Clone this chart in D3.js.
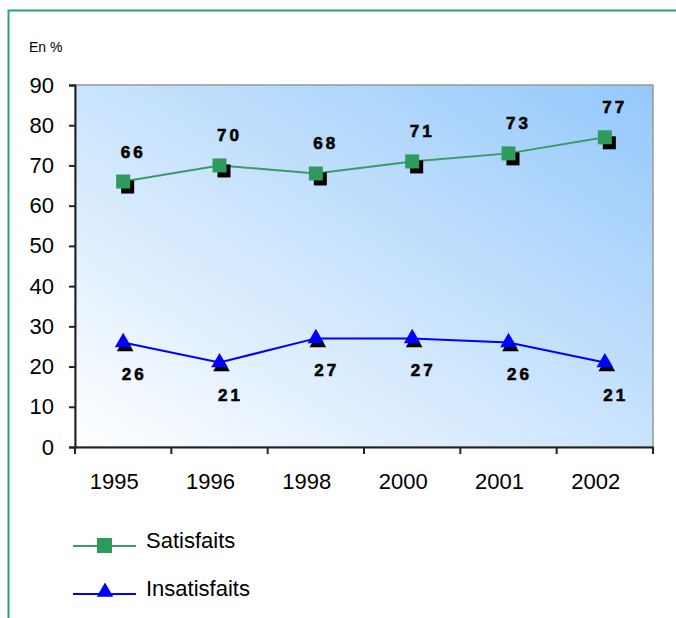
<!DOCTYPE html>
<html>
<head>
<meta charset="utf-8">
<script src="https://cdn.jsdelivr.net/npm/d3@7"></script>
<style>
body { margin: 0; background: #fff; }
svg { display: block; font-family: Arial, "Liberation Sans", sans-serif; }
</style>
</head>
<body>
<script>
let years = ['1995', '1996', '1998', '2000', '2001', '2002'];
let satisfaits = [66, 70, 68, 71, 73, 77];
let insatisfaits = [26, 21, 27, 27, 26, 21];
let yTicks = [0, 10, 20, 30, 40, 50, 60, 70, 80, 90];

let width = 676, height = 618;
let margin = { top: 85, right: 23, bottom: 171, left: 75 };

let svg = d3.select('body').append('svg').attr('width', width).attr('height', height);

// green frame
svg.append('rect').attr('x', 8.5).attr('y', 10.5).attr('width', 690).attr('height', 640)
  .attr('fill', 'none').attr('stroke', '#2aa57a').attr('stroke-width', 2);

let defs = svg.append('defs');
let grad = defs.append('linearGradient').attr('id', 'bg')
  .attr('x1', '0%').attr('y1', '100%').attr('x2', '100%').attr('y2', '0%');
grad.append('stop').attr('offset', '0%').attr('stop-color', '#ffffff');
grad.append('stop').attr('offset', '100%').attr('stop-color', '#94c8fb');

let x = d3.scaleBand().domain(years).range([margin.left, width - margin.right]);
let y = d3.scaleLinear().domain([0, 90]).range([height - margin.bottom, margin.top]);

svg.append('rect')
  .attr('x', x.range()[0]).attr('y', y(90))
  .attr('width', x.range()[1] - x.range()[0]).attr('height', y(0) - y(90))
  .attr('fill', 'url(#bg)').attr('stroke', '#999').attr('stroke-width', 1.5);

// axes
let yAxis = svg.append('g').attr('transform', `translate(${margin.left},0)`)
  .call(d3.axisLeft(y).tickValues(yTicks).tickSize(6).tickPadding(15));
yAxis.selectAll('text').attr('font-size', 22).attr('fill', '#000').attr('font-family', 'Arial, Liberation Sans, sans-serif');
yAxis.selectAll('line, path').attr('stroke', '#222').attr('stroke-width', 2);

let xAxis = svg.append('g').attr('transform', `translate(0,${y(0)})`)
  .call(d3.axisBottom(x).tickSize(0).tickPadding(26).tickSizeOuter(0));
xAxis.selectAll('text').attr('font-size', 22).attr('fill', '#000').attr('dx', -9)
  .attr('font-family', 'Arial, Liberation Sans, sans-serif');
xAxis.select('.domain').attr('stroke', '#222').attr('stroke-width', 2);
// ticks at band boundaries
let bounds = years.map(d => x(d)).concat([x.range()[1]]);
svg.append('g').selectAll('line').data(bounds).enter().append('line')
  .attr('x1', d => d).attr('x2', d => d)
  .attr('y1', y(0)).attr('y2', y(0) + 7)
  .attr('stroke', '#222').attr('stroke-width', 2);

svg.append('text').attr('x', 29).attr('y', 52).attr('font-size', 14)
  .attr('fill', '#000').text('En %');

let cx = d => x(d) + x.bandwidth() / 2;

// lines
let lineS = d3.line().x((d, i) => cx(years[i])).y(d => y(d));
svg.append('path').datum(satisfaits).attr('d', lineS)
  .attr('fill', 'none').attr('stroke', '#3a9a6a').attr('stroke-width', 2);
svg.append('path').datum(insatisfaits).attr('d', lineS)
  .attr('fill', 'none').attr('stroke', '#0000ff').attr('stroke-width', 2);

// square markers with shadow
let sq = svg.append('g').selectAll('g').data(satisfaits).enter().append('g')
  .attr('transform', (d, i) => `translate(${cx(years[i])},${y(d)})`);
sq.append('rect').attr('x', -2).attr('y', -1).attr('width', 13).attr('height', 13).attr('fill', '#000');
sq.append('rect').attr('x', -7).attr('y', -7).attr('width', 14).attr('height', 14).attr('fill', '#2f9a5e');

// triangle markers with shadow
let tri = d3.symbol().type(d3.symbolTriangle).size(120);
let tr = svg.append('g').selectAll('g').data(insatisfaits).enter().append('g')
  .attr('transform', (d, i) => `translate(${cx(years[i])},${y(d)})`);
tr.append('path').attr('d', tri).attr('transform', 'translate(2,4)').attr('fill', '#000');
tr.append('path').attr('d', tri).attr('fill', '#0000ff');

// data labels
svg.append('g').selectAll('text').data(satisfaits).enter().append('text')
  .attr('x', (d, i) => cx(years[i]) + 10).attr('y', d => y(d) - 24)
  .attr('text-anchor', 'middle').attr('font-size', 17).attr('font-weight', 'bold')
  .attr('letter-spacing', 3).attr('fill', '#000').attr('stroke', '#000').attr('stroke-width', 0.6)
  .text(d => d);
svg.append('g').selectAll('text').data(insatisfaits).enter().append('text')
  .attr('x', (d, i) => cx(years[i]) + 11).attr('y', d => y(d) + 38)
  .attr('text-anchor', 'middle').attr('font-size', 17).attr('font-weight', 'bold')
  .attr('letter-spacing', 3).attr('fill', '#000').attr('stroke', '#000').attr('stroke-width', 0.6)
  .text(d => d);

// legend
let legend = [
  { name: 'Satisfaits', color: '#3a9a6a', y: 546 },
  { name: 'Insatisfaits', color: '#0000ff', y: 594 }
];
let lg = svg.append('g').selectAll('g').data(legend).enter().append('g');
lg.append('line').attr('x1', 73).attr('x2', 136).attr('y1', d => d.y).attr('y2', d => d.y)
  .attr('stroke', d => d.color).attr('stroke-width', 2);
lg.filter((d, i) => i === 0).append('rect').attr('x', 97).attr('y', d => d.y - 8)
  .attr('width', 15).attr('height', 15).attr('fill', '#2f9a5e');
lg.filter((d, i) => i === 1).append('path').attr('d', d3.symbol().type(d3.symbolTriangle).size(120))
  .attr('transform', d => `translate(105,${d.y - 2})`).attr('fill', '#0000ff');
lg.append('text').attr('x', 146).attr('y', d => d.y + 2).attr('font-size', 22)
  .attr('fill', '#000').text(d => d.name);
</script>
</body>
</html>
